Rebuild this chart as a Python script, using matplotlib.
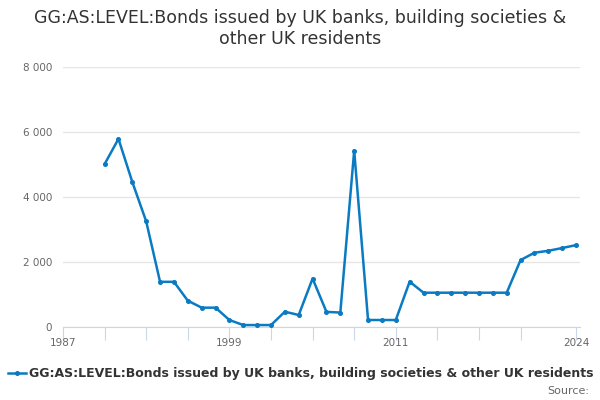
import numpy as np
import matplotlib
matplotlib.use('Agg')
import matplotlib.pyplot as plt
from matplotlib.ticker import FuncFormatter

# Values
years = list(range(1990, 2025))
values = [5010, 5790, 4460, 3250, 1390, 1390, 810, 595, 595, 215,
          60, 60, 60, 470, 370, 1490, 465, 445, 5425, 215,
          215, 215, 1395, 1055, 1055, 1055, 1055, 1055, 1055, 1055,
          2060, 2285, 2345, 2430, 2520]
series_name = "GG:AS:LEVEL:Bonds issued by UK banks, building societies & other UK residents"
title = "GG:AS:LEVEL:Bonds issued by UK banks, building societies &\nother UK residents"
tick_years = list(range(1987, 2021, 3)) + [2024]
label_years = [1987, 1999, 2011, 2024]
y_ticks = [0, 2000, 4000, 6000, 8000]

line_color = '#0a7bc2'
axis_color = '#ccd6eb'
text_grey = '#666666'

fig = plt.figure(figsize=(6, 4), dpi=100)
ax = fig.add_axes([0.105, 0.1825, 0.862, 0.65])

ax.plot(years, values, color=line_color, lw=1.8, marker='o', ms=2.6, zorder=3)

ax.set_xlim(1987, 2024.3)
ax.set_ylim(0, 8000)
ax.set_yticks(y_ticks)
ax.yaxis.set_major_formatter(FuncFormatter(lambda v, p: f"{int(v):,}".replace(',', ' ')))
ax.set_xticks(tick_years)
ax.set_xticklabels([str(y) if y in label_years else '' for y in tick_years])

ax.grid(axis='y', color='#e6e6e6', lw=1)
ax.set_axisbelow(True)
for side in ['top', 'right', 'left']:
    ax.spines[side].set_visible(False)
ax.spines['bottom'].set_color(axis_color)
ax.tick_params(axis='y', length=0, labelsize=7.5, labelcolor=text_grey, pad=8)
ax.tick_params(axis='x', length=9, color=axis_color, labelsize=7.5, labelcolor=text_grey, pad=-1)

fig.text(0.5, 0.978, title, ha='center', va='top', fontsize=12.5, color='#333333', linespacing=1.25)

# legend at the bottom
fig.add_artist(plt.Line2D([0.013, 0.0285, 0.044], [0.0675, 0.0675, 0.0675], color=line_color, lw=1.8,
                          marker='o', ms=2.6, markevery=[1], transform=fig.transFigure))
fig.text(0.049, 0.0675, series_name, ha='left', va='center', fontsize=9, fontweight='bold', color='#333333')
fig.text(0.982, 0.022, "Source:", ha='right', va='center', fontsize=8, color=text_grey)

fig.savefig('out.png', dpi=100)
